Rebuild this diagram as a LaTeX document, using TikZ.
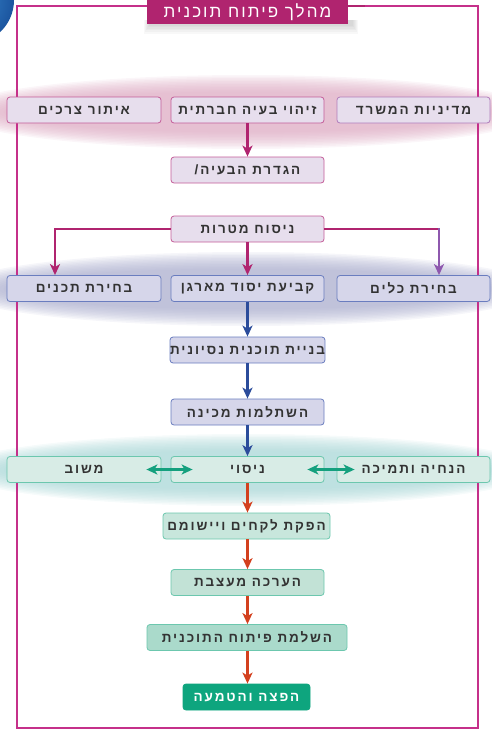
\documentclass[tikz,border=0pt]{standalone}
\usepackage{fontspec}
\usetikzlibrary{arrows.meta,calc}
\TeXXeTstate=1
\newfontfamily\hebfont[Script=Hebrew,LetterSpace=14]{Liberation Sans}
\newfontfamily\hebtitle[Script=Hebrew,LetterSpace=12]{Liberation Sans}
\newcommand{\hebtxt}[1]{{\hebfont\bfseries\beginR #1\endR}}
\definecolor{mag}{HTML}{B0246F}
\definecolor{frame}{HTML}{C5308A}
\definecolor{pinkfill}{HTML}{E7DEED}
\definecolor{pinkborder}{HTML}{C45C98}
\definecolor{purpborder}{HTML}{B07CBC}
\definecolor{purparrow}{HTML}{8E58AE}
\definecolor{bluefill}{HTML}{D6D6EA}
\definecolor{blueborder}{HTML}{6A7DBF}
\definecolor{bluearrow}{HTML}{2B4C9B}
\definecolor{tealfill}{HTML}{D8ECE6}
\definecolor{tealborder}{HTML}{6CC7AE}
\definecolor{tealarrow}{HTML}{14A07E}
\definecolor{redarrow}{HTML}{D3401E}
\definecolor{greenA}{HTML}{C8E6DC}
\definecolor{greenB}{HTML}{C2E2D6}
\definecolor{greenC}{HTML}{AADACB}
\definecolor{greenD}{HTML}{0EA57E}
\definecolor{txt}{HTML}{333333}
\definecolor{glowpink}{HTML}{DCA8C1}
\definecolor{glowblue}{HTML}{A8ABCC}
\definecolor{glowteal}{HTML}{A6D5D5}
\definecolor{logoA}{HTML}{3A8AD0}
\definecolor{logoB}{HTML}{1B559F}
\begin{document}
\begin{tikzpicture}[x=1pt,y=-1pt,
  box/.style={draw, rounded corners=3pt, line width=0.8pt, minimum height=26pt,
    minimum width=153pt, inner sep=0pt, text=txt, font=\fontsize{13.5}{15}\selectfont},
  pinkbox/.style={box, fill=pinkfill, draw=pinkborder},
  bluebox/.style={box, fill=bluefill, draw=blueborder},
  tealbox/.style={box, fill=tealfill, draw=tealborder},
  greenbox/.style={box, draw=tealborder},
  arr/.style={line width=2.3pt, -{Stealth[length=11pt,width=10pt,inset=3pt]}},
  darr/.style={line width=2.3pt, {Stealth[length=11pt,width=10pt,inset=3pt]}-{Stealth[length=11pt,width=10pt,inset=3pt]}}
]
\useasboundingbox (0,0) rectangle (491,729);
% logo crescent
\fill[gray!12] (-30,0) circle (58);
\fill[white] (-20,8) circle (52);
\shade[inner color=logoA, outer color=logoB] (-30,0) circle (44);
% glows (soft ellipses)
\foreach \i in {0,...,11}{
  \fill[glowpink, opacity=0.1] (246,112) ellipse ({292-4.5*\i} and {37-1.5*\i});
  \fill[glowblue, opacity=0.1] (246,289) ellipse ({292-4.5*\i} and {37-1.5*\i});
  \fill[glowteal, opacity=0.1] (246,470) ellipse ({292-4.5*\i} and {36-1.5*\i});
}
% frame
\draw[frame, line width=1.2pt] (17,6) rectangle (478,728);
\draw[mag, line width=2.5pt] (340,6) -- (365,6);
% title shadow
\foreach \i in {1,...,6}{
  \fill[gray, opacity=0.06] (150-\i,20) rectangle (352+\i,24+1.6*\i);
}
\node[fill=mag, minimum width=201pt, minimum height=24pt, inner sep=0pt, anchor=north,
  text=white, font=\fontsize{17}{19}\selectfont] (title) at (247.5,0) {\hebtitle\beginR מהלך פיתוח תוכנית\endR};
% row 1
\node[pinkbox, draw=purpborder] (policy) at (413.5,110) {\hebtxt{מדיניות המשרד}};
\node[pinkbox] (social) at (247.5,110) {\hebtxt{זיהוי בעיה חברתית}};
\node[pinkbox, minimum width=154pt] (needs) at (84,110) {\hebtxt{איתור צרכים}};
\node[pinkbox] (define) at (247.5,170) {\hebtxt{הגדרת הבעיה/}};
\node[pinkbox] (goals) at (247.5,229) {\hebtxt{ניסוח מטרות}};
% row 2
\node[bluebox] (tools) at (413.5,288.5) {\hebtxt{בחירת כלים}};
\node[bluebox] (base) at (247.5,288.5) {\hebtxt{קביעת יסוד מארגן}};
\node[bluebox, minimum width=154pt] (content) at (84,288.5) {\hebtxt{בחירת תכנים}};
\node[bluebox] (pilot) at (247.5,350) {\hebtxt{בניית תוכנית נסיונית}};
\node[bluebox] (training) at (247.5,412) {\hebtxt{השתלמות מכינה}};
% row 3
\node[tealbox] (guidance) at (413.5,469.5) {\hebtxt{הנחיה ותמיכה}};
\node[tealbox] (test) at (247.5,469.5) {\hebtxt{ניסוי}};
\node[tealbox, minimum width=154pt] (feedback) at (84,469.5) {\hebtxt{משוב}};
\node[greenbox, fill=greenA, minimum width=167pt] (lessons) at (246.5,526) {\hebtxt{הפקת לקחים ויישומם}};
\node[greenbox, fill=greenB] (eval) at (247.5,582.5) {\hebtxt{הערכה מעצבת}};
\node[greenbox, fill=greenC, minimum width=200pt] (complete) at (247,637.5) {\hebtxt{השלמת פיתוח התוכנית}};
\node[box, fill=greenD, draw=greenD, minimum width=127pt, text=white] (deploy) at (246.5,697) {\hebtxt{הפצה והטמעה}};
% connectors
\draw[arr, mag] (social.south) -- (define.north);
\coordinate (cL) at (55,229);
\coordinate (cR) at (439,229);
\draw[arr, mag] (goals.west) -- (cL) -- (cL |- content.north);
\draw[line width=2.3pt, mag] (goals.east) -- ($(cR)+(1.15,0)$);
\draw[arr, purparrow] ($(cR)+(0,-1.15)$) -- (cR |- tools.north);
\draw[arr, mag] (goals.south) -- (base.north);
\draw[arr, bluearrow] (base.south) -- (pilot.north);
\draw[arr, bluearrow] (pilot.south) -- (training.north);
\draw[arr, bluearrow] (training.south) -- (test.north);
\draw[darr, tealarrow] ($(feedback.east)+(-15,0)$) -- ($(test.west)+(22,0)$);
\draw[darr, tealarrow] ($(test.east)+(-17,0)$) -- ($(guidance.west)+(18,0)$);
\draw[arr, redarrow] (test.south) -- (test.south |- lessons.north);
\draw[arr, redarrow] (test.south |- lessons.south) -- (eval.north);
\draw[arr, redarrow] (eval.south) -- (eval.south |- complete.north);
\draw[arr, redarrow] (eval.south |- complete.south) -- (eval.south |- deploy.north);
\end{tikzpicture}
\end{document}
